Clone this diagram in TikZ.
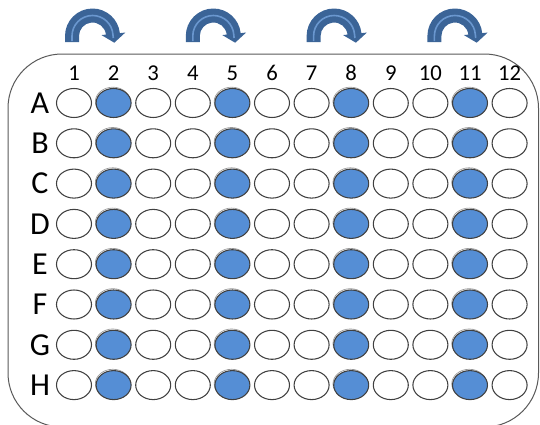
\documentclass[tikz,border=0pt]{standalone}
\usepackage{fontspec}
\setmainfont{Carlito}
\usetikzlibrary{shapes.geometric}
\definecolor{arrowblue}{HTML}{3B6497}
\definecolor{arrowlight}{HTML}{6A97CF}
\definecolor{wellblue}{HTML}{558ED5}
\definecolor{edgegray}{HTML}{404040}
\definecolor{plategray}{HTML}{595959}
\tikzset{
 well/.style={ellipse, draw=edgegray, line width=0.8pt, minimum width=26.25pt, minimum height=21.75pt, inner sep=0pt},
 filledwell/.style={well, fill=wellblue},
 ghostring/.style={draw=gray!80, line width=0.5pt},
 rowlab/.style={font=\fontsize{24}{24}\selectfont, inner sep=0pt},
 collab/.style={font=\fontsize{17}{17}\selectfont, inner sep=0pt},
 plate/.style={draw=plategray, line width=0.75pt},
 turn/.style={fill=arrowblue},
 turnline/.style={draw=arrowlight, line width=1.2pt},
}
\begin{document}
\begin{tikzpicture}[x=0.75pt,y=-0.75pt]
\useasboundingbox (0,0) rectangle (540,425);
\begin{scope}
\clip (0,0) rectangle (540,425);
\draw[plate, rounded corners=40.5pt] (8,54) rectangle (538.5,427);
\end{scope}
% column numbers
\foreach \c in {1,...,12}
  \node[collab] (c\c) at ({74+(\c-1)*39.6},73) {\c};
% rows and wells
\foreach \r [count=\i from 0] in {A,B,C,D,E,F,G,H} {
  \pgfmathsetmacro\yy{103+\i*40.3}
  \node[rowlab] (r\r) at (40,\yy) {\r};
  \foreach \c in {1,...,12} {
    \pgfmathsetmacro\xx{74+(\c-1)*39.6}
    \pgfmathtruncatemacro\m{mod(\c,3)}
    \ifnum\m=2
      \draw[ghostring] ({\xx-0.8},{\yy-1.3}) ellipse [x radius=13.1pt, y radius=10.9pt];
      \node[filledwell] (w\r\c) at (\xx,\yy) {};
    \else
      \node[well] (w\r\c) at (\xx,\yy) {};
    \fi
  }
}
% curved arrows
\foreach \k in {0,1,2,3} {
  \pgfmathsetmacro\cx{92.5+\k*120.8}
  \fill[turn] ({\cx-27.5},42) -- ({\cx-27.5},36)
     arc[start angle=180, end angle=354, radius=27.5]
     -- ({\cx+32.8},32.55) -- ({\cx+21.8},42.7) -- ({\cx+8.95},35.06)
     -- ({\cx+13.43},34.59)
     arc[start angle=354, end angle=180, radius=13.5]
     -- ({\cx-13.5},42) -- cycle;
  \draw[turnline] ({\cx-20.5},41) -- ({\cx-20.5},36)
     arc[start angle=180, end angle=356, radius=20.5] -- ({\cx+20.8},38);
}
\end{tikzpicture}
\end{document}
